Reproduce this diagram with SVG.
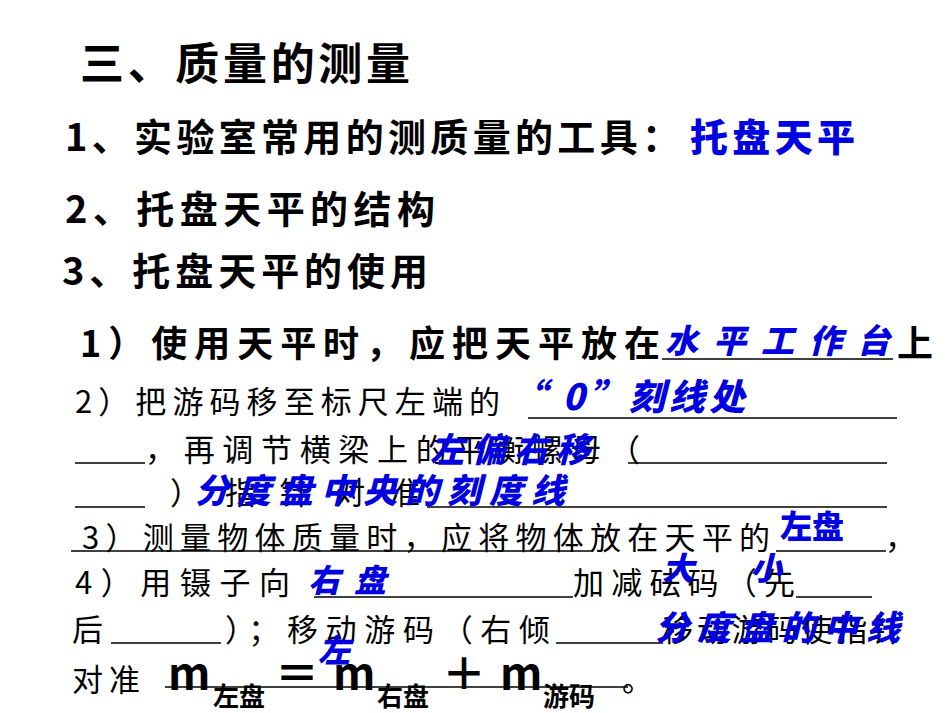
<svg xmlns="http://www.w3.org/2000/svg" width="950" height="713" viewBox="0 0 950 713">
<style>
.h{font-family:"Noto Sans CJK SC",sans-serif;font-weight:bold;fill:#000}
.s{font-family:"Noto Sans CJK SC",sans-serif;font-size:31px;fill:#000}
.b{font-family:"Noto Sans CJK SC",sans-serif;font-weight:900;fill:#0000e0;font-style:italic}
.u{stroke:#000;stroke-width:1.5}
</style>
<rect width="950" height="713" fill="#fff"/>
<g id="title"><text class="h" x="80" y="80" font-size="44" textLength="330" lengthAdjust="spacing">三、质量的测量</text></g>
<g id="l1"><text class="h" x="65" y="151" font-size="38" textLength="615" lengthAdjust="spacing">1、实验室常用的测质量的工具：</text>
<text class="b" x="690" y="151" font-size="38" style="font-style:normal" textLength="165" lengthAdjust="spacing">托盘天平</text></g>
<g id="l2"><text class="h" x="65" y="223" font-size="38" textLength="370" lengthAdjust="spacing">2、托盘天平的结构</text></g>
<g id="l3"><text class="h" x="62" y="285" font-size="38" textLength="366" lengthAdjust="spacing">3、托盘天平的使用</text></g>
<g id="p1"><text class="h" x="80" y="357" font-size="36" textLength="580" lengthAdjust="spacing">1）使用天平时，应把天平放在</text>
<line class="u" x1="662" y1="359" x2="893" y2="359"/>
<text class="b" x="665" y="353" font-size="33" textLength="225" lengthAdjust="spacing">水平工作台</text>
<text class="h" x="897" y="357" font-size="36">上</text></g>
<g id="p2">
<text class="s" x="75" y="413" textLength="425" lengthAdjust="spacing">2）把游码移至标尺左端的</text>
<line class="u" x1="528" y1="418" x2="897" y2="418"/>
<text class="b" x="510" y="410" font-size="36" textLength="235" lengthAdjust="spacing">“ 0”刻线处</text>
<line class="u" x1="75" y1="463" x2="145" y2="463"/>
<text class="s" x="145" y="461" textLength="495" lengthAdjust="spacing">，再调节横梁上的平衡螺母（</text>
<line class="u" x1="628" y1="463" x2="887" y2="463"/>
<text class="b" x="430" y="462" font-size="34" textLength="160" lengthAdjust="spacing">左偏右移</text>
<line class="u" x1="75" y1="507" x2="145" y2="507"/>
<text class="s" x="170" y="504" textLength="250" lengthAdjust="spacing">）指针对准</text>
<line class="u" x1="427" y1="507" x2="887" y2="507"/>
<text class="b" x="195" y="503" font-size="34" textLength="370" lengthAdjust="spacing">分度盘中央的刻度线</text>
</g>
<g id="p3">
<text class="s" x="82" y="549" textLength="688" lengthAdjust="spacing">3）测量物体质量时，应将物体放在天平的</text>
<line class="u" x1="71" y1="551" x2="593" y2="551"/>
<line class="u" x1="776" y1="551" x2="886" y2="551"/>
<text class="b" x="780" y="538" font-size="32" style="font-style:normal">左盘</text>
<text class="s" x="885" y="549">，</text>
</g>
<g id="p4">
<text class="s" x="75" y="594" textLength="215" lengthAdjust="spacing">4）用镊子向</text>
<line class="u" x1="314" y1="597" x2="573" y2="597"/>
<text class="b" x="308" y="592" font-size="32" textLength="78" lengthAdjust="spacing">右盘</text>
<text class="s" x="573" y="594" textLength="222" lengthAdjust="spacing">加减砝码（先</text>
<line class="u" x1="796" y1="597" x2="872" y2="597"/>
<text class="b" x="662" y="580" font-size="32">大</text>
<text class="b" x="750" y="580" font-size="32">小</text>
<text class="s" x="72" y="641">后</text>
<line class="u" x1="111" y1="643" x2="221" y2="643"/>
<text class="s" x="225" y="641" textLength="325" lengthAdjust="spacing">）；移动游码（右倾</text>
<line class="u" x1="556" y1="643" x2="663" y2="643"/>
<text class="s" x="662" y="641" textLength="240" lengthAdjust="spacing">移动游码使指针</text>
<text class="b" x="655" y="640" font-size="34" textLength="245" lengthAdjust="spacing">分度盘的中线</text>
<text class="b" x="318" y="662" font-size="32">左</text>
</g>
<g id="p5">
<text class="s" x="72" y="691" textLength="68" lengthAdjust="spacing">对准</text>
<line class="u" x1="165" y1="687" x2="628" y2="687"/>
<text class="h" x="168" y="690" font-size="44">m</text>
<text class="h" x="213" y="706" font-size="26">左盘</text>
<text class="h" x="275" y="690" font-size="44">＝</text>
<text class="h" x="333" y="690" font-size="44">m</text>
<text class="h" x="377" y="706" font-size="26">右盘</text>
<text class="h" x="442" y="690" font-size="44">＋</text>
<text class="h" x="500" y="690" font-size="44">m</text>
<text class="h" x="543" y="706" font-size="26">游码</text>
<text class="s" x="622" y="691">。</text>
</g>
</svg>
